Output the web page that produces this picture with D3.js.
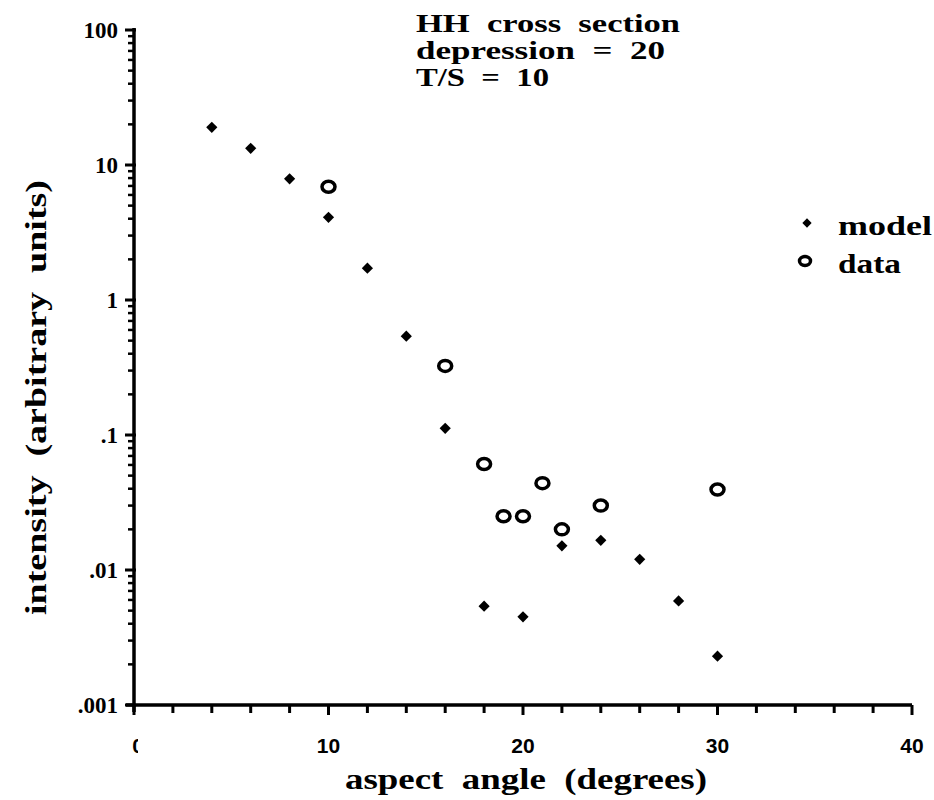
<!DOCTYPE html>
<html>
<head>
<meta charset="utf-8">
<script src="https://cdn.jsdelivr.net/npm/d3@7"></script>
<style>
  body { margin: 0; background: #fff; }
  svg { display: block; }
  .serif { font-family: "Liberation Serif", "DejaVu Serif", serif; font-weight: bold; white-space: pre; }
  .sans  { font-family: "Liberation Sans", Arial, sans-serif; font-weight: bold; }
</style>
</head>
<body>
<svg id="chart" width="934" height="800"></svg>
<script>
// HH cross section, model vs data, log intensity vs aspect angle.

const modelAngle = [4, 6, 8, 10, 12, 14, 16, 18, 20, 22, 24, 26, 28, 30];
const modelIntensity = [19, 13.3, 7.9, 4.1, 1.72, 0.54, 0.112, 0.0054, 0.0045, 0.0151, 0.0166, 0.012, 0.0059, 0.0023];

const dataAngle = [10, 16, 18, 19, 20, 21, 22, 24, 30];
const dataIntensity = [6.9, 0.325, 0.061, 0.025, 0.025, 0.044, 0.020, 0.030, 0.0395];

const xTicks = [10, 20, 30, 40];
const yTicks = [100, 10, 1, 0.1, 0.01, 0.001];
const yTickLabels = ["100", "10", "1", ".1", ".01", ".001"];

const titleLines = ["HH  cross  section", "depression  =  20", "T/S  =  10"];
const titleWidths = [264, 249, 133];

const svg = d3.select("#chart");

const x = d3.scaleLinear().domain([0, 40]).range([134, 912]);
const y = d3.scaleLog().domain([0.001, 100]).range([705, 30]);

// stretch glyphs to the wide type of the original
function fit(sel, w) {
    return sel.attr("textLength", w).attr("lengthAdjust", "spacingAndGlyphs");
}

// ── x axis ──────────────────────────
const xAxis = svg.append("g").attr("transform", "translate(0,705)");
xAxis.append("line")
    .attr("x1", x(0) - 8).attr("x2", x(40))
    .attr("stroke", "#000").attr("stroke-width", 3.5);
xAxis.selectAll("line.tick")
    .data(d3.range(0, 41, 2))
    .join("line")
    .attr("class", "tick")
    .attr("x1", d => x(d)).attr("x2", d => x(d))
    .attr("y1", 0).attr("y2", d => d % 10 === 0 ? 10 : 8)
    .attr("stroke", "#000").attr("stroke-width", 3);
xAxis.selectAll("text")
    .data(xTicks)
    .join("text")
    .attr("class", "sans")
    .attr("x", d => x(d))
    .attr("y", 48)
    .attr("text-anchor", "middle")
    .attr("font-size", 21)
    .text(d => d);

// the zero label is cut off in the original
svg.append("clipPath").attr("id", "zeroclip")
    .append("rect").attr("x", 120).attr("y", 725).attr("width", 18).attr("height", 40);
svg.append("text")
    .attr("class", "sans")
    .attr("x", x(0) + 4).attr("y", 753)
    .attr("text-anchor", "middle")
    .attr("font-size", 21)
    .attr("clip-path", "url(#zeroclip)")
    .text("0");

// ── y axis ──────────────────────────
const yAxis = svg.append("g");
yAxis.append("line")
    .attr("x1", x(0)).attr("x2", x(0))
    .attr("y1", y(100) - 2).attr("y2", 712)
    .attr("stroke", "#000").attr("stroke-width", 3.5);

const yMinor = [];
for (let e = -3; e < 2; e++) {
    for (let k = 2; k <= 9; k++) yMinor.push(k * Math.pow(10, e));
}
yAxis.selectAll("line.minor")
    .data(yMinor)
    .join("line")
    .attr("class", "minor")
    .attr("x1", x(0) - 6).attr("x2", x(0))
    .attr("y1", d => y(d)).attr("y2", d => y(d))
    .attr("stroke", "#000").attr("stroke-width", 2.5);
yAxis.selectAll("line.major")
    .data(yTicks)
    .join("line")
    .attr("class", "major")
    .attr("x1", x(0) - 9).attr("x2", x(0) + 2)
    .attr("y1", d => y(d)).attr("y2", d => y(d))
    .attr("stroke", "#000").attr("stroke-width", 3);
yAxis.selectAll("text")
    .data(yTicks)
    .join("text")
    .attr("class", "serif")
    .attr("x", x(0) - 16)
    .attr("y", d => y(d) + 8)
    .attr("text-anchor", "end")
    .attr("font-size", 23)
    .text((d, i) => yTickLabels[i]);

// ── axis titles ──────────────────────────
fit(svg.append("text")
    .attr("class", "serif")
    .attr("x", 345).attr("y", 789)
    .attr("font-size", 29)
    .text("aspect  angle  (degrees)"), 362);

fit(svg.append("text")
    .attr("class", "serif")
    .attr("transform", "translate(46,615) rotate(-90)")
    .attr("font-size", 29)
    .text("intensity  (arbitrary  units)"), 435);

// ── title block ──────────────────────────
svg.append("g").selectAll("text")
    .data(titleLines)
    .join("text")
    .attr("class", "serif")
    .attr("x", 416)
    .attr("y", (d, i) => 32 + i * 27)
    .attr("font-size", 25)
    .attr("textLength", (d, i) => titleWidths[i])
    .attr("lengthAdjust", "spacingAndGlyphs")
    .text(d => d);

// ── marks ──────────────────────────
const diamond = d3.symbol().type(d3.symbolDiamond2).size(80);

svg.append("g").selectAll("path")
    .data(modelAngle)
    .join("path")
    .attr("d", diamond)
    .attr("transform", (d, i) => `translate(${x(d)},${y(modelIntensity[i])})`)
    .attr("fill", "#000");

svg.append("g").selectAll("ellipse")
    .data(dataAngle)
    .join("ellipse")
    .attr("cx", d => x(d))
    .attr("cy", (d, i) => y(dataIntensity[i]))
    .attr("rx", 6.5).attr("ry", 5.5)
    .attr("fill", "none")
    .attr("stroke", "#000")
    .attr("stroke-width", 3.5);

// ── legend ──────────────────────────
const legend = svg.append("g");
legend.append("path")
    .attr("d", d3.symbol().type(d3.symbolDiamond2).size(55))
    .attr("transform", "translate(807,223)");
legend.append("ellipse")
    .attr("cx", 805).attr("cy", 261)
    .attr("rx", 5.5).attr("ry", 4.5)
    .attr("fill", "none").attr("stroke", "#000").attr("stroke-width", 3.5);
fit(legend.append("text")
    .attr("class", "serif")
    .attr("x", 838).attr("y", 235)
    .attr("font-size", 28)
    .text("model"), 94);
fit(legend.append("text")
    .attr("class", "serif")
    .attr("x", 838).attr("y", 273)
    .attr("font-size", 28)
    .text("data"), 63);
</script>
</body>
</html>
